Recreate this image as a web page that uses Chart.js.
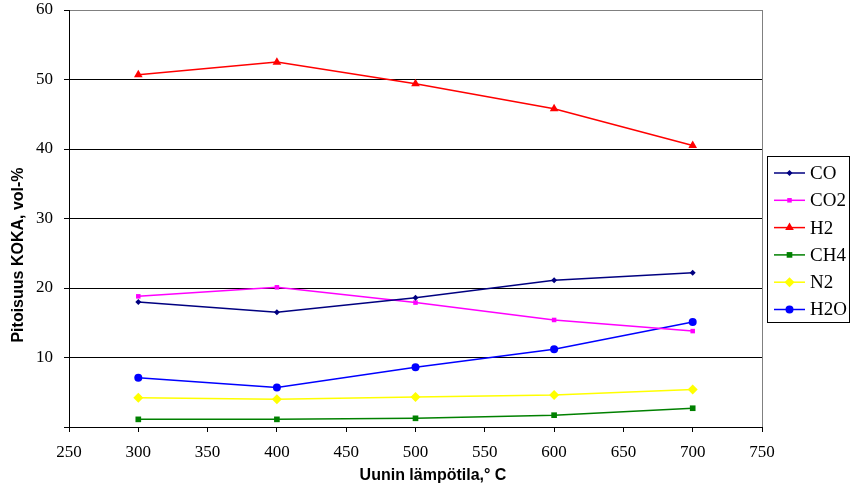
<!DOCTYPE html>
<html>
<head>
<meta charset="utf-8">
<script src="https://cdn.jsdelivr.net/npm/chart.js@4/dist/chart.umd.min.js"></script>
<style>
  html, body { margin: 0; padding: 0; background: #fff; }
  #wrap { width: 853px; height: 489px; }
</style>
</head>
<body>
<div id="wrap"><canvas id="kaasut"></canvas></div>
<script>
// uunin lämpötilat ja kaasujen pitoisuudet
const lampotilat = [300, 400, 500, 600, 700];
const co  = [18.0, 16.5, 18.6, 21.1, 22.2];
const co2 = [18.8, 20.1, 17.9, 15.4, 13.8];
const h2  = [50.7, 52.5, 49.4, 45.8, 40.5];
const ch4 = [1.1, 1.1, 1.25, 1.7, 2.7];
const n2  = [4.2, 4.0, 4.3, 4.6, 5.4];
const h2o = [7.1, 5.7, 8.6, 11.2, 15.1];

const sarjat = [
  { nimi: "CO",  arvot: co,  vari: "#000080", tyyli: "rectRot",  koko: 3 },
  { nimi: "CO2", arvot: co2, vari: "#FF00FF", tyyli: "rect",     koko: 3.2 },
  { nimi: "H2",  arvot: h2,  vari: "#FF0000", tyyli: "triangle", koko: 5 },
  { nimi: "CH4", arvot: ch4, vari: "#008000", tyyli: "rect",     koko: 4 },
  { nimi: "N2",  arvot: n2,  vari: "#FFFF00", tyyli: "rectRot",  koko: 5 },
  { nimi: "H2O", arvot: h2o, vari: "#0000FF", tyyli: "circle",   koko: 4 }
];

const serif = "'Liberation Serif', 'Times New Roman', serif";
const sans = "'Liberation Sans', Arial, sans-serif";

// akselien otsikot, selite ja piirtoalueen oikea reuna
const lisat = {
  id: "lisat",
  afterDraw(chart) {
    const ctx = chart.ctx;
    const a = chart.chartArea;
    ctx.save();
    ctx.strokeStyle = "#808080";
    ctx.lineWidth = 1;
    ctx.beginPath();
    ctx.moveTo(Math.round(a.right) + 0.5, a.top);
    ctx.lineTo(Math.round(a.right) + 0.5, a.bottom);
    ctx.stroke();

    ctx.fillStyle = "#000";
    ctx.font = "bold 16px " + sans;
    ctx.textAlign = "center";
    ctx.textBaseline = "middle";
    ctx.fillText("Uunin lämpötila,° C", 433, 476);
    ctx.save();
    ctx.translate(19, 255);
    ctx.rotate(-Math.PI / 2);
    ctx.fillText("Pitoisuus KOKA, vol-%", 0, 0);
    ctx.restore();

    // selite
    ctx.strokeStyle = "#000";
    ctx.strokeRect(767.5, 156.5, 82, 166);
    ctx.font = "19px " + serif;
    ctx.textAlign = "left";
    sarjat.forEach((s, i) => {
      const y = 173 + i * 27.3;
      ctx.strokeStyle = s.vari;
      ctx.lineWidth = 1.5;
      ctx.beginPath();
      ctx.moveTo(774, y);
      ctx.lineTo(805, y);
      ctx.stroke();
      ctx.fillStyle = s.vari;
      Chart.helpers.drawPoint(ctx, { pointStyle: s.tyyli, radius: s.koko, rotation: 0, borderWidth: 0 }, 789.5, y);
      ctx.fillStyle = "#000";
      ctx.fillText(s.nimi, 810, y + 1);
    });
    ctx.restore();
  }
};

new Chart(document.getElementById("kaasut"), {
  type: "line",
  data: {
    datasets: sarjat.map(s => ({
      label: s.nimi,
      data: lampotilat.map((t, i) => ({ x: t, y: s.arvot[i] })),
      borderColor: s.vari,
      backgroundColor: s.vari,
      borderWidth: 1.5,
      pointStyle: s.tyyli,
      pointRadius: s.koko,
      pointBorderWidth: 0,
      pointHoverRadius: s.koko,
      tension: 0
    }))
  },
  options: {
    responsive: true,
    maintainAspectRatio: false,
    animation: false,
    layout: { padding: { top: 10, right: 91, left: 0, bottom: 0 } },
    plugins: {
      legend: { display: false },
      tooltip: { enabled: false }
    },
    scales: {
      x: {
        type: "linear",
        min: 250,
        max: 750,
        afterFit(scale) {
          scale.height = 62;
          scale.paddingLeft = 0;
          scale.paddingRight = 0;
        },
        ticks: {
          stepSize: 50,
          color: "#000",
          padding: 10,
          maxRotation: 0,
          font: { family: serif, size: 17 }
        },
        grid: { drawOnChartArea: false, drawTicks: true, tickLength: 5, tickColor: "#000" },
        border: { color: "#000", width: 1 }
      },
      y: {
        min: 0,
        max: 60,
        afterFit(scale) {
          scale.width = 69;
          scale.paddingTop = 0;
          scale.paddingBottom = 0;
        },
        ticks: {
          stepSize: 10,
          color: "#000",
          padding: 11,
          font: { family: serif, size: 17 },
          callback: v => (v === 0 ? "" : v)
        },
        grid: {
          color: c => (c.tick && c.tick.value === 60 ? "#808080" : "#000"),
          lineWidth: 1,
          tickLength: 5,
          tickColor: "#000"
        },
        border: { color: "#000", width: 1 }
      }
    }
  },
  plugins: [lisat]
});
</script>
</body>
</html>
